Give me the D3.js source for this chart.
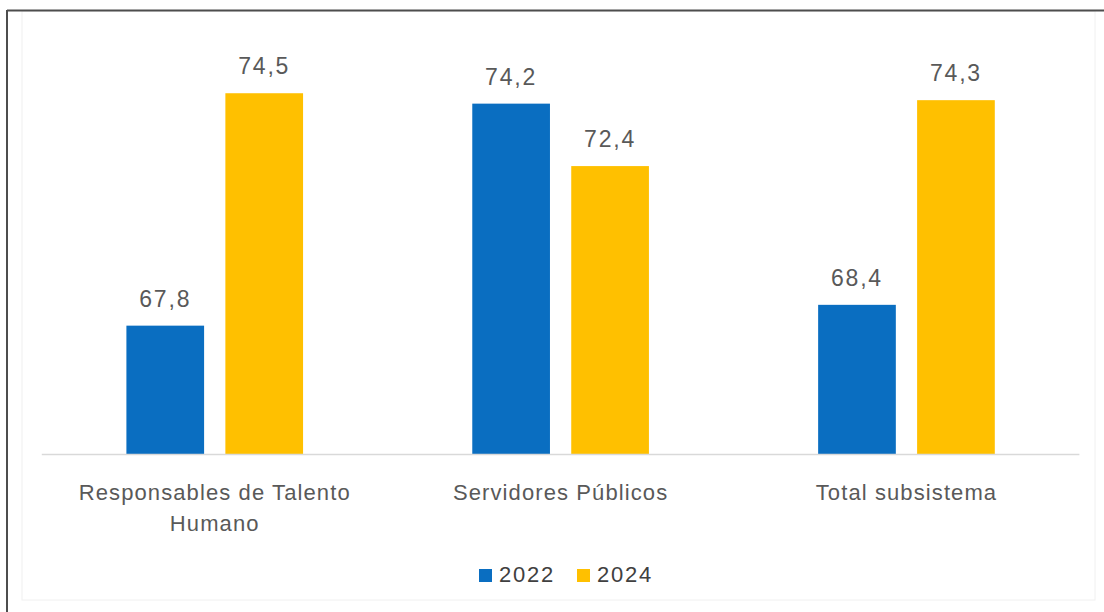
<!DOCTYPE html>
<html>
<head>
<meta charset="utf-8">
<script src="https://cdn.jsdelivr.net/npm/d3@7"></script>
<style>
  html, body { margin: 0; padding: 0; background: #ffffff; }
  svg { display: block; }
</style>
</head>
<body>
<svg id="chart" width="1104" height="612"></svg>
<script>
// Categories (each label split into its wrapped lines)
const categories = ["Responsables de Talento Humano", "Servidores Públicos", "Total subsistema"];
const categoryLines = [["Responsables de Talento", "Humano"], ["Servidores Públicos"], ["Total subsistema"]];
const seriesNames = ["2022", "2024"];
const values2022 = [67.8, 74.2, 68.4];
const values2024 = [74.5, 72.4, 74.3];
const valueLabels2022 = ["67,8", "74,2", "68,4"];
const valueLabels2024 = ["74,5", "72,4", "74,3"];

const colors = { "2022": "#0A6EC1", "2024": "#FFC000" };
const textColor = "#595959";
const font = "'Liberation Sans', Arial, sans-serif";

const svg = d3.select("#chart");
const W = 1104, H = 612;

// Outer frame: dark top/left edges, faint inner chart-area edge
svg.append("rect").attr("x", 22).attr("y", 11).attr("width", 1073).attr("height", 589)
  .attr("fill", "none").attr("stroke", "#f0f0f0").attr("stroke-width", 1);
svg.append("line").attr("x1", 7).attr("x2", W).attr("y1", 10.5).attr("y2", 10.5)
  .attr("stroke", "#4d4d4d").attr("stroke-width", 2);
svg.append("line").attr("x1", 7).attr("x2", 7).attr("y1", 10).attr("y2", H)
  .attr("stroke", "#4d4d4d").attr("stroke-width", 2);

// Scales
const x0 = d3.scaleBand().domain(categories).range([41.8, 1079.4])
  .paddingInner(0.428).paddingOuter(0.214);
const x1 = d3.scaleBand().domain(seriesNames).range([0, x0.bandwidth()])
  .paddingInner(0.215).paddingOuter(0.107);
const y = d3.scaleLinear().domain([64.1, 76]).range([454, 41.2]);

const rows = categories.map((c, i) => ({
  cat: c,
  bars: [
    { s: "2022", v: values2022[i], label: valueLabels2022[i] },
    { s: "2024", v: values2024[i], label: valueLabels2024[i] }
  ]
}));

const groups = svg.append("g").selectAll("g").data(rows).join("g")
  .attr("transform", d => `translate(${x0(d.cat)},0)`);

groups.selectAll("rect").data(d => d.bars).join("rect")
  .attr("x", d => x1(d.s))
  .attr("width", x1.bandwidth())
  .attr("y", d => y(d.v))
  .attr("height", d => y.range()[0] - y(d.v))
  .attr("fill", d => colors[d.s]);

groups.selectAll("text.val").data(d => d.bars).join("text")
  .attr("class", "val")
  .attr("x", d => x1(d.s) + x1.bandwidth() / 2)
  .attr("y", d => y(d.v) - 19)
  .attr("text-anchor", "middle")
  .attr("font-family", font)
  .attr("font-size", 23)
  .attr("letter-spacing", 1.8)
  .attr("fill", textColor)
  .text(d => d.label);

// Baseline
svg.append("line")
  .attr("x1", x0.range()[0]).attr("x2", x0.range()[1])
  .attr("y1", 454.5).attr("y2", 454.5)
  .attr("stroke", "#d9d9d9").attr("stroke-width", 1.5);

// Category labels
const catLabels = svg.append("g").selectAll("text").data(categories).join("text")
  .attr("text-anchor", "middle")
  .attr("font-family", font)
  .attr("font-size", 22)
  .attr("letter-spacing", 1.1)
  .attr("fill", textColor)
  .attr("transform", d => `translate(${x0(d) + x0.bandwidth() / 2},500)`);
catLabels.each(function (d, i) {
  d3.select(this).selectAll("tspan").data(categoryLines[i]).join("tspan")
    .attr("x", 0).attr("dy", (t, j) => j === 0 ? 0 : 31)
    .text(t => t);
});

// Legend
const legend = svg.append("g").attr("transform", "translate(479,568)");
const legendItems = [{ s: "2022", x: 0 }, { s: "2024", x: 98 }];
legendItems.forEach(it => {
  const g = legend.append("g").attr("transform", `translate(${it.x},0)`);
  g.append("rect").attr("x", 0).attr("y", 1).attr("width", 13).attr("height", 13)
    .attr("fill", colors[it.s]);
  g.append("text").attr("x", 20).attr("y", 14)
    .attr("font-family", font).attr("font-size", 22).attr("letter-spacing", 1.8)
    .attr("fill", "#404040").text(it.s);
});
</script>
</body>
</html>
